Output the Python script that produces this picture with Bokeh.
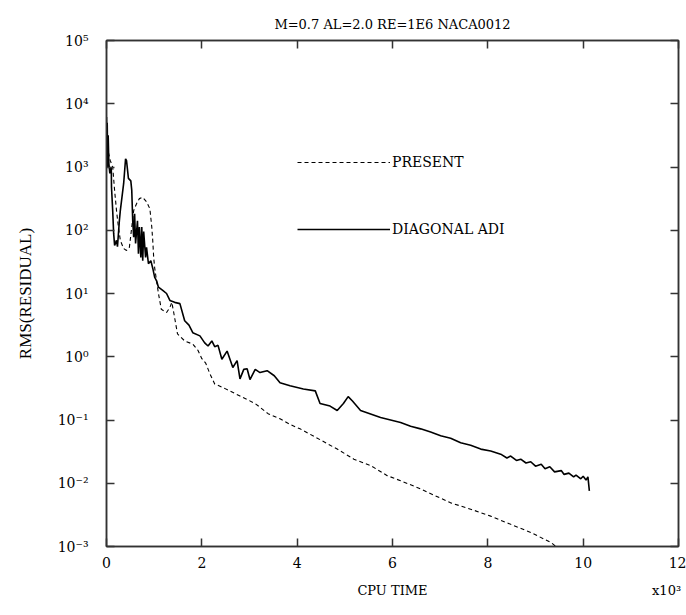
from bokeh.plotting import figure
from bokeh.models import (FixedTicker, LinearAxis, LogAxis, Legend, LegendItem,
                          Range1d, CustomLabelingPolicy)
from bokeh.embed import file_html
from bokeh.resources import INLINE

# ---------------- data (CPU time in units of 1e3, residual as log10) ----------------
present_x = [0.01, 0.03, 0.08, 0.13, 0.17, 0.21, 0.25, 0.29, 0.36, 0.42, 0.48, 0.53, 0.57,
             0.63, 0.69, 0.76, 0.84, 0.91, 0.95, 0.97, 0.99, 1.01, 1.05, 1.09, 1.15, 1.26,
             1.33, 1.37, 1.41, 1.49, 1.64, 1.81, 1.92, 2.00, 2.08, 2.17, 2.27, 2.48, 2.80,
             3.12, 3.39, 3.64, 3.85, 4.06, 4.38, 4.84, 5.19, 5.54, 5.89, 6.17, 6.59, 7.22,
             7.64, 8.06, 8.48, 8.91, 9.33, 9.43]
present_log10 = [3.45, 3.26, 3.10, 3.00, 2.63, 2.31, 2.05, 1.84, 1.71, 1.68, 1.73, 2.05, 2.31,
                 2.42, 2.50, 2.52, 2.45, 2.34, 2.05, 1.84, 1.57, 1.41, 1.20, 1.00, 0.75, 0.70,
                 0.78, 0.86, 0.70, 0.36, 0.25, 0.20, 0.10, -0.03, -0.10, -0.27, -0.43, -0.50,
                 -0.62, -0.74, -0.90, -0.98, -1.07, -1.14, -1.27, -1.46, -1.62, -1.72, -1.88,
                 -1.96, -2.09, -2.31, -2.41, -2.52, -2.65, -2.78, -2.94, -3.00]

adi_x = [0.00, 0.005, 0.015, 0.025, 0.035, 0.05, 0.07, 0.10, 0.105, 0.13, 0.15, 0.17, 0.21,
         0.23, 0.27, 0.29, 0.36, 0.40, 0.42, 0.46, 0.51, 0.53, 0.55, 0.57, 0.59, 0.61, 0.65,
         0.67, 0.69, 0.72, 0.74, 0.76, 0.78, 0.82, 0.84, 0.88, 0.93, 0.97, 1.01, 1.05, 1.09,
         1.18, 1.26, 1.33, 1.43, 1.54, 1.64, 1.73, 1.81, 1.96, 2.06, 2.13, 2.21, 2.27, 2.34,
         2.42, 2.53, 2.65, 2.74, 2.80, 2.88, 2.95, 3.01, 3.12, 3.22, 3.37, 3.52, 3.64, 3.85,
         4.13, 4.38, 4.48, 4.69, 4.84, 4.97, 5.07, 5.16, 5.33, 5.75, 6.17, 6.38, 6.59, 6.80,
         7.01, 7.22, 7.43, 7.64, 7.85, 8.06, 8.27, 8.40, 8.48, 8.60, 8.69, 8.80, 8.90, 9.00,
         9.12, 9.20, 9.30, 9.40, 9.54, 9.60, 9.70, 9.80, 9.85, 9.95, 10.00, 10.06, 10.10, 10.13]
adi_log10 = [3.79, 3.20, 3.70, 3.00, 3.50, 3.05, 2.90, 3.00, 2.68, 2.31, 1.95, 1.76, 1.84,
             1.74, 2.15, 2.31, 2.74, 3.13, 3.10, 2.82, 2.78, 2.63, 2.15, 1.89, 2.26, 1.79, 2.15,
             1.63, 2.05, 1.57, 2.05, 1.52, 1.98, 1.57, 1.73, 1.47, 1.52, 1.40, 1.26, 1.20, 1.10,
             1.05, 1.00, 0.89, 0.86, 0.84, 0.57, 0.50, 0.38, 0.33, 0.22, 0.17, 0.25, 0.16, 0.18,
             -0.04, 0.09, -0.17, -0.06, -0.35, -0.20, -0.19, -0.36, -0.20, -0.25, -0.22, -0.30,
             -0.41, -0.46, -0.51, -0.54, -0.74, -0.78, -0.85, -0.74, -0.63, -0.70, -0.85, -0.96,
             -1.04, -1.10, -1.14, -1.19, -1.25, -1.29, -1.36, -1.40, -1.46, -1.49, -1.54, -1.60,
             -1.57, -1.64, -1.62, -1.68, -1.66, -1.73, -1.70, -1.77, -1.74, -1.82, -1.80, -1.86,
             -1.84, -1.90, -1.87, -1.93, -1.89, -1.95, -1.90, -2.12]

x_ticks = [0, 2, 4, 6, 8, 10, 12]
y_exponents = [-3, -2, -1, 0, 1, 2, 3, 4, 5]
y_tick_labels = ["10\u207b\u00b3", "10\u207b\u00b2", "10\u207b\u00b9", "10\u2070", "10\u00b9",
                 "10\u00b2", "10\u00b3", "10\u2074", "10\u2075"]
series_names = ["PRESENT", "DIAGONAL ADI"]
title_text = "M=0.7 AL=2.0 RE=1E6 NACA0012"
x_label = "CPU TIME"
y_label = "RMS(RESIDUAL)"
x_scale_note = "x10\u00b3"
# where the two caption texts under the x axis sit (in axis units)
x_caption_at = {6: x_label, 11.75: x_scale_note}

# ---------------- figure ----------------
TXT = "DejaVu Serif"
SERIF = "Liberation Serif"
AXC = "#333333"

p = figure(width=686, height=615, output_backend="svg", toolbar_location=None,
           y_axis_type="log", x_range=Range1d(0, 12), y_range=Range1d(1e-3, 1e5),
           min_border_left=106, min_border_right=8, min_border_top=40, min_border_bottom=69)

p.title.text = title_text
p.title.align = "center"
p.title.text_font = TXT
p.title.text_font_style = "normal"
p.title.text_font_size = "13px"
p.title.text_color = "black"

p.grid.visible = False
p.outline_line_color = AXC
p.outline_line_width = 1.5
p.background_fill_color = "white"
p.border_fill_color = "white"

yt = FixedTicker(ticks=[10.0 ** e for e in y_exponents])
xt = FixedTicker(ticks=x_ticks)
no_labels = CustomLabelingPolicy(code="for (const i of Array.from(indices)) { indices.unset(i) }\nreturn indices")

def style_axis(ax, size="14px"):
    ax.axis_line_color = AXC
    ax.axis_line_width = 1.5
    ax.major_tick_in = 8
    ax.major_tick_out = 0
    ax.major_tick_line_color = AXC
    ax.major_tick_line_width = 1.5
    ax.minor_tick_line_color = None
    ax.major_label_text_font = TXT
    ax.major_label_text_font_size = size
    ax.major_label_text_color = "black"

xa = p.xaxis[0]
xa.ticker = xt
style_axis(xa)
xa.major_label_standoff = 10

# caption row under the x axis: "CPU TIME" centred, "x10³" at the right end
cap = LinearAxis(ticker=FixedTicker(ticks=list(x_caption_at.keys())),
                 major_label_overrides=dict(x_caption_at))
cap.axis_line_color = None
cap.major_tick_line_color = None
cap.minor_tick_line_color = None
cap.major_tick_in = 0
cap.major_tick_out = 0
cap.major_label_standoff = 12
cap.major_label_text_font = TXT
cap.major_label_text_font_size = "13px"
cap.major_label_text_color = "black"
p.add_layout(cap, "below")

ya = p.yaxis[0]
ya.ticker = yt
style_axis(ya)
ya.major_label_standoff = 18
ya.major_label_overrides = {10.0 ** e: t for e, t in zip(y_exponents, y_tick_labels)}
ya.axis_label = y_label
ya.axis_label_text_font = SERIF
ya.axis_label_text_font_style = "normal"
ya.axis_label_text_font_size = "17px"
ya.axis_label_text_color = "black"
ya.axis_label_standoff = 20

top = LinearAxis(ticker=xt, major_label_policy=no_labels)
style_axis(top, "1px")
top.major_label_standoff = 0
p.add_layout(top, "above")

right = LogAxis(ticker=yt, major_label_policy=no_labels)
style_axis(right, "1px")
right.major_label_standoff = 0
p.add_layout(right, "right")

r_present = p.line(present_x, [10.0 ** v for v in present_log10],
                   line_color="black", line_width=1.1, line_dash="4 3")
r_adi = p.line(adi_x, [10.0 ** v for v in adi_log10], line_color="black", line_width=1.6)

legend = Legend(items=[LegendItem(label=series_names[0], renderers=[r_present]),
                       LegendItem(label=series_names[1], renderers=[r_adi])],
                location=(191, 307), orientation="vertical",
                glyph_width=93, glyph_height=20, label_height=20, label_standoff=2,
                spacing=47, padding=0, margin=0,
                border_line_alpha=0, background_fill_alpha=0,
                label_text_font=TXT, label_text_font_size="14px",
                label_text_baseline="bottom", label_text_color="black")
p.add_layout(legend)

open("out.html", "w").write(file_html(p, INLINE))
